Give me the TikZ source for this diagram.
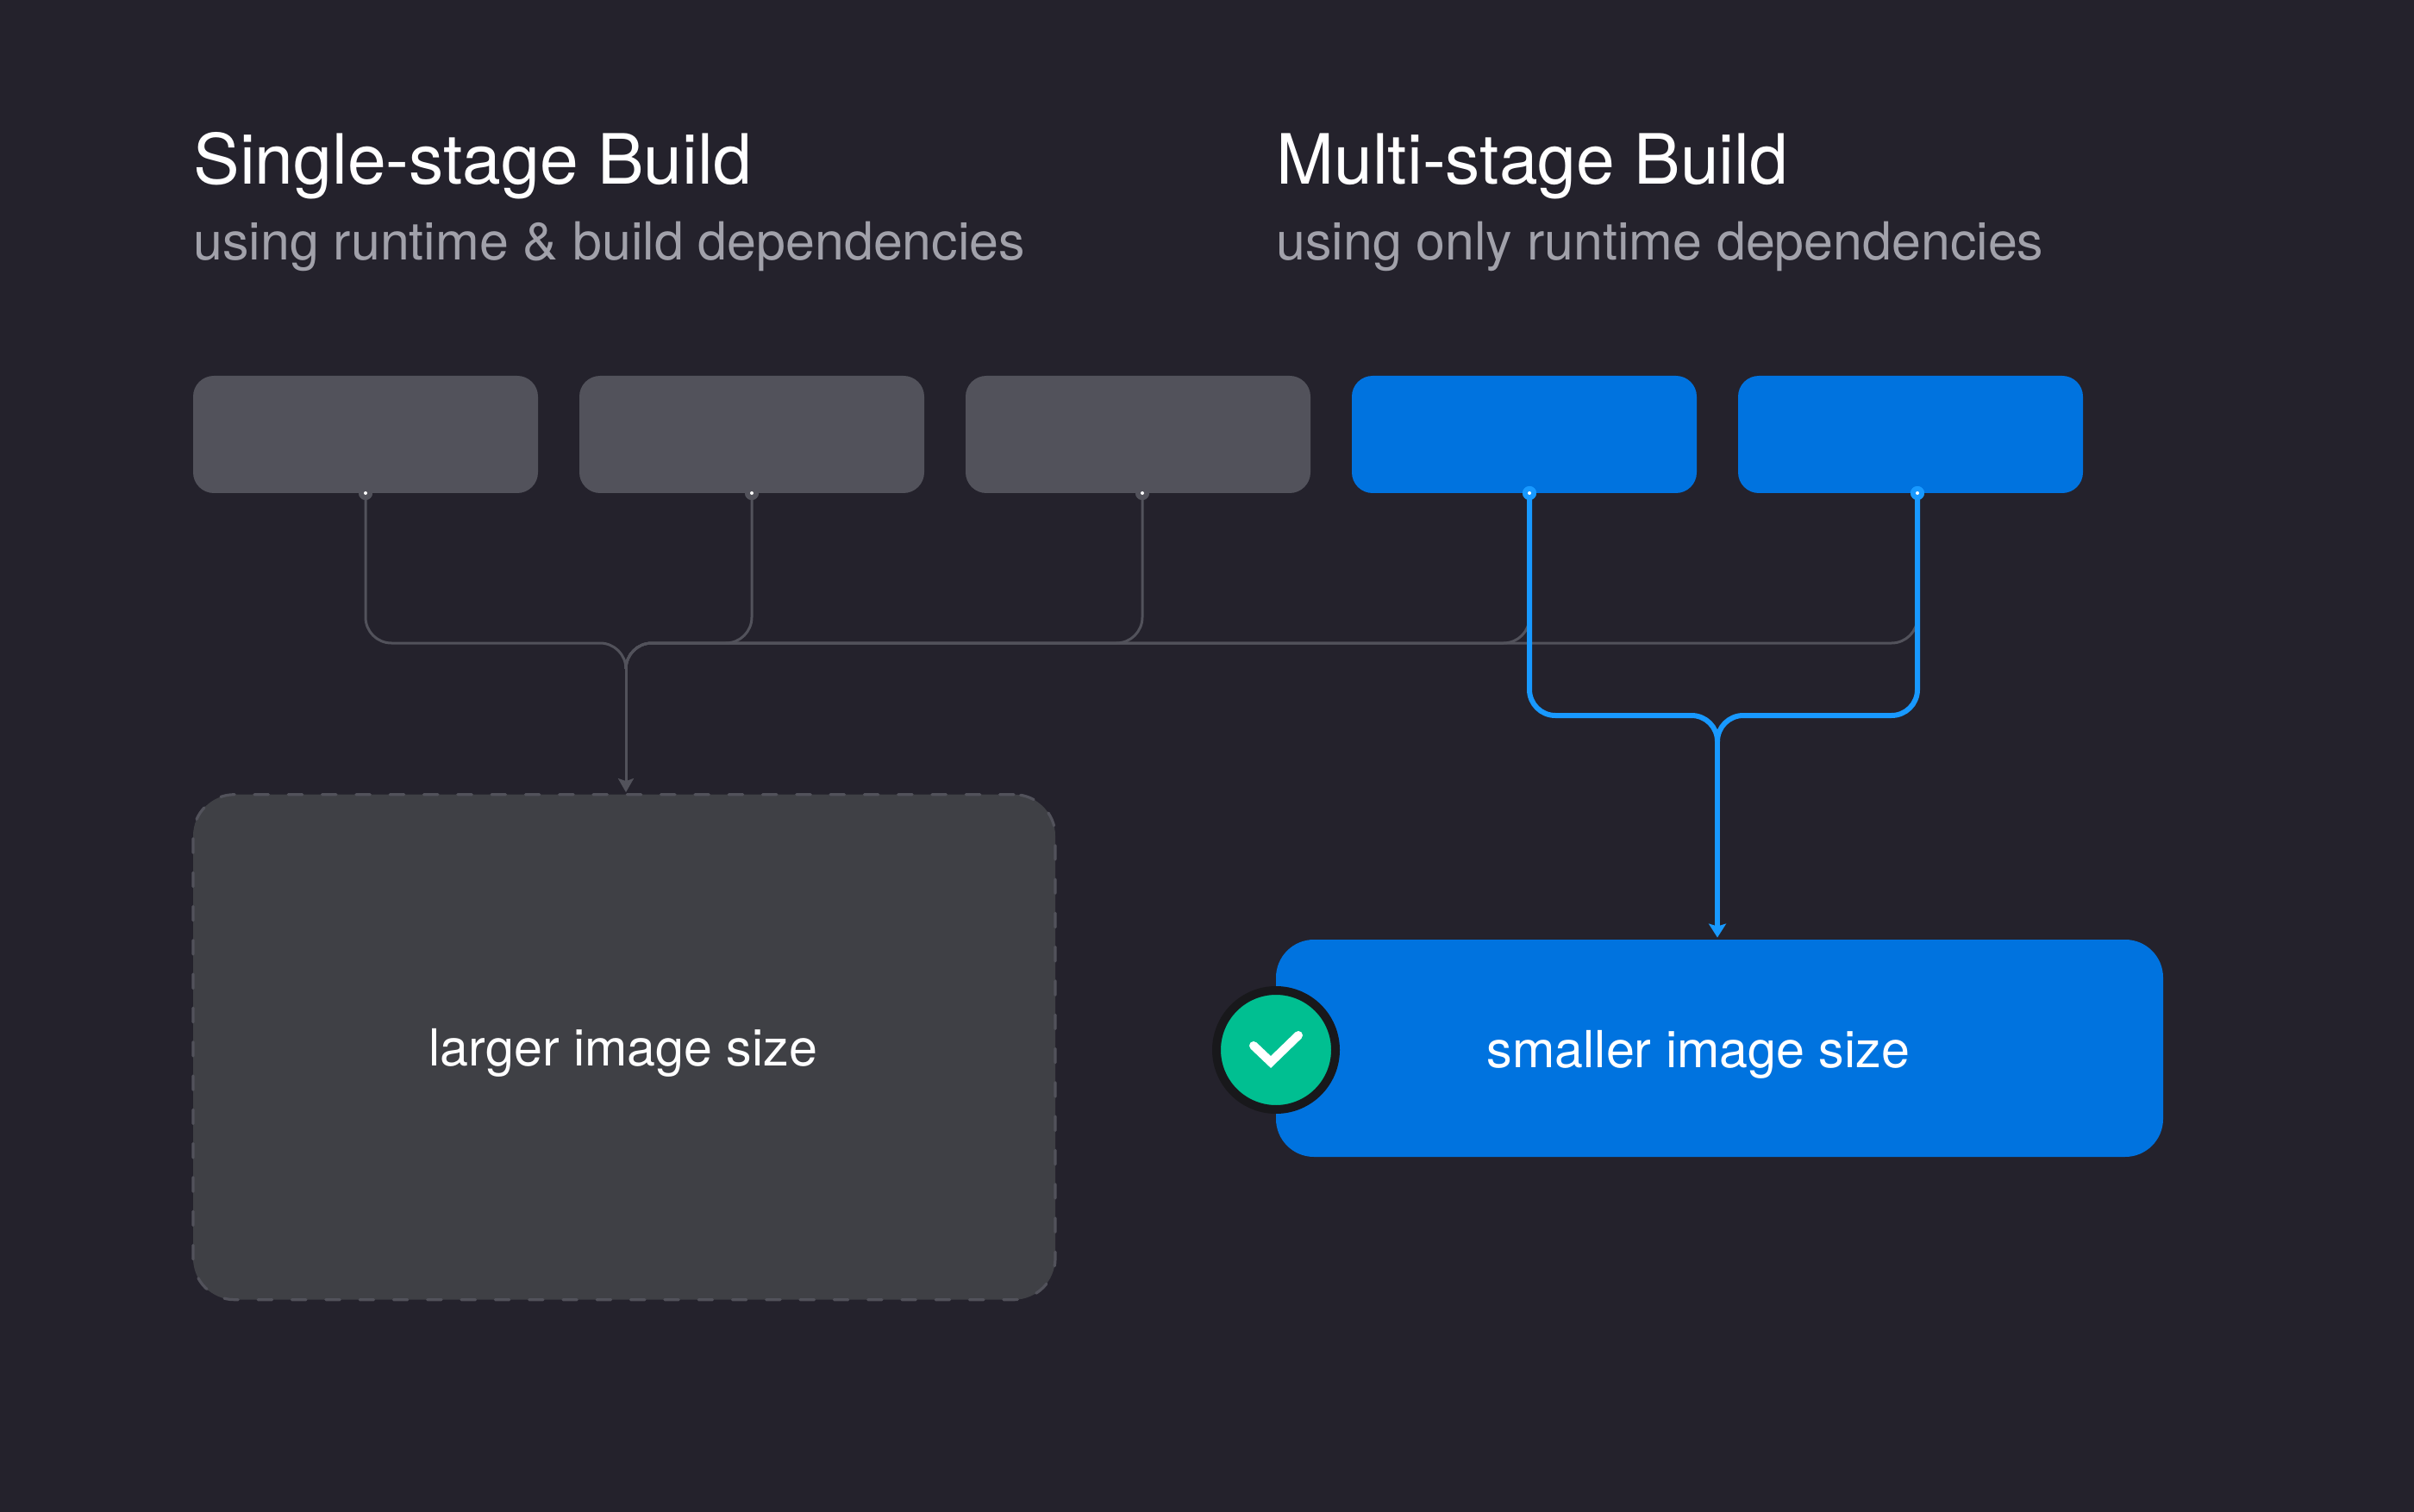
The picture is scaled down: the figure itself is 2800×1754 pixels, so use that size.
\documentclass[tikz,border=0pt]{standalone}
\usepackage{fontspec}
\setmainfont{TeX Gyre Heros}
\usetikzlibrary{arrows.meta,calc}
\definecolor{bgc}{HTML}{24222C}
\definecolor{greyc}{HTML}{52525B}
\definecolor{darkbox}{HTML}{3F4045}
\definecolor{blueb}{HTML}{0073DF}
\definecolor{bluel}{HTML}{1899FF}
\definecolor{subc}{HTML}{A1A1AA}
\definecolor{ringc}{HTML}{18181B}
\definecolor{okc}{HTML}{00BF91}
\tikzset{
  smallbox/.style={rectangle,rounded corners=12pt,minimum width=200pt,minimum height=68pt,inner sep=0pt,draw=none},
  greybox/.style={smallbox,fill=greyc},
  bluebox/.style={smallbox,fill=blueb},
  title/.style={anchor=base west,inner sep=0pt,text=white,font=\fontsize{40.2}{48}\selectfont},
  subtitle/.style={anchor=base west,inner sep=0pt,text=subc,font=\fontsize{30.45}{36}\selectfont},
  sizelabel/.style={anchor=base,inner sep=0pt,text=white,font=\fontsize{29.6}{36}\selectfont},
  greyline/.style={draw=greyc,line width=1.5pt,rounded corners=15pt},
  blueline/.style={draw=bluel,line width=3pt,rounded corners=15pt},
  greyarrow/.style={draw=greyc,line width=1.5pt,-{Stealth[length=8pt,width=9pt,inset=1.5pt]},shorten >=0.5pt},
  bluearrow/.style={draw=bluel,line width=3pt,-{Stealth[length=8pt,width=10pt,inset=1.5pt]},shorten >=1pt},
  portg/.style={circle,fill=greyc,minimum size=8pt,inner sep=0pt},
  portb/.style={circle,fill=bluel,minimum size=8pt,inner sep=0pt},
  pin/.style={circle,fill=white,minimum size=2pt,inner sep=0pt},
}
\begin{document}
\begin{tikzpicture}[x=0.5pt,y=-0.5pt]
\path[use as bounding box,fill=bgc] (0,0) rectangle (2800,1754);

\node[title] (t1) at (224,214) {Single-stage Build};
\node[subtitle] (s1) at (224,302) {using runtime \& build dependencies};
\node[title] (t2) at (1480,214) {Multi-stage Build};
\node[subtitle] (s2) at (1480,302) {using only runtime dependencies};

\node[greybox] (b1) at (424,504) {};
\node[greybox] (b2) at (872,504) {};
\node[greybox] (b3) at (1320,504) {};
\node[bluebox] (b4) at (1768,504) {};
\node[bluebox] (b5) at (2216,504) {};

\node[rectangle,draw=greyc,fill=darkbox,line width=1.6pt,line cap=round,dash pattern=on 8.2pt off 11.45pt,rounded corners=24pt,
  minimum width=500pt,minimum height=293pt,inner sep=0pt] (big1) at (724,1214.7) {};
\node[rectangle,fill=blueb,rounded corners=22pt,minimum width=514.5pt,minimum height=126pt,inner sep=0pt] (big2) at (1994.5,1216) {};

\node[portg] (p1) at (424,572) {};
\node[portg] (p2) at (872,572) {};
\node[portg] (p3) at (1325,572) {};
\node[portb] (p4) at (1774,572) {};
\node[portb] (p5) at (2224,572) {};

\coordinate (gh) at (726,746);
\coordinate (gj) at (726,776);
\coordinate (bh) at (1992,830);
\coordinate (bj) at (1992,860);

\foreach \p in {p1,p2,p3,p4,p5}
  \draw[greyline] (\p.center) |- (gh) -- (gj);
\draw[greyarrow] (gj) -- (gj |- big1.north);

\foreach \p in {p4,p5}
  \draw[blueline] (\p.center) |- (bh) -- (bj);
\draw[bluearrow] (bj) -- (bj |- big2.north);

\node[portg] at (p1) {};
\node[portg] at (p2) {};
\node[portg] at (p3) {};
\node[portb] at (p4) {};
\node[portb] at (p5) {};
\node[pin] at (p1) {};
\node[pin] at (p2) {};
\node[pin] at (p3) {};
\node[pin] at (p4) {};
\node[pin] at (p5) {};

\node[sizelabel] (l1) at (723,1236) {larger image size};
\node[sizelabel] (l2) at (1970,1238) {smaller image size};

\node[circle,fill=okc,draw=ringc,line width=5pt,minimum size=69pt,inner sep=0pt] (ok) at (1480,1218) {};
\draw[white,line width=5pt,line cap=round,line join=miter] (1454,1213) -- (1474,1232) -- (1506,1201);
\end{tikzpicture}
\end{document}
